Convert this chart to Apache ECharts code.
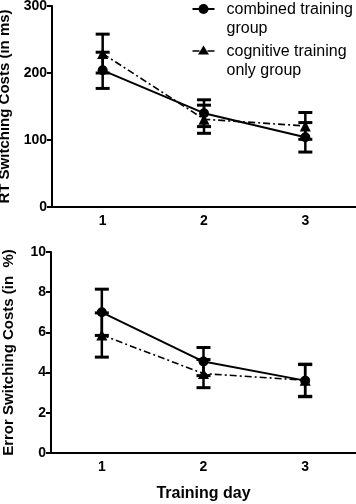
<!DOCTYPE html>
<html>
<head>
<meta charset="utf-8">
<script src="https://cdn.jsdelivr.net/npm/echarts@6/dist/echarts.min.js"></script>
<style>
  html, body { margin: 0; padding: 0; background: #fff; }
  #chart { width: 356px; height: 504px; }
</style>
</head>
<body>
<div id="chart"></div>
<script>
// Training days (x categories)
const days = ["1", "2", "3"];

// RT switching costs (ms): means and error bar half-lengths
const rtCombined = [204, 140, 104];
const rtCombinedErr = [27, 20, 22];
const rtCognitive = [229, 131, 121];
const rtCognitiveErr = [29, 21, 20];

// Error switching costs (%): means and error bar half-lengths
const errCombined = [7.0, 4.55, 3.6];
const errCombinedErr = [1.15, 0.7, 0.8];
const errCognitive = [5.87, 3.95, 3.62];
const errCognitiveErr = [1.1, 0.7, 0.8];

const seriesNames = ["combined training\ngroup", "cognitive training\nonly group"];

const FONT = "Liberation Sans, Arial, sans-serif";
const dashDot = [7, 3, 2, 3];

const chart = echarts.init(document.getElementById("chart"));

function errorBar(params, api) {
  const i = api.value(0);
  const v = api.value(1);
  const e = api.value(2);
  const hi = api.coord([i, v + e]);
  const lo = api.coord([i, v - e]);
  const hw = 7;
  const st = { stroke: "#000", lineWidth: 3 };
  return {
    type: "group",
    children: [
      { type: "line", shape: { x1: hi[0], y1: hi[1], x2: lo[0], y2: lo[1] }, style: { stroke: "#000", lineWidth: 2.5 } },
      { type: "line", shape: { x1: hi[0] - hw, y1: hi[1], x2: hi[0] + hw, y2: hi[1] }, style: st },
      { type: "line", shape: { x1: lo[0] - hw, y1: lo[1], x2: lo[0] + hw, y2: lo[1] }, style: st }
    ]
  };
}

function errData(vals, errs) {
  return vals.map((v, i) => [i, v, errs[i]]);
}

function xAxisCfg(gridIndex, withName) {
  return {
    type: "category",
    gridIndex: gridIndex,
    data: days,
    boundaryGap: true,
    axisLine: { lineStyle: { color: "#000", width: 2 } },
    axisTick: { alignWithLabel: true, length: 5, lineStyle: { color: "#000", width: 2 } },
    axisLabel: { color: "#000", fontWeight: "bold", fontSize: 14, fontFamily: FONT, margin: 7 },
    name: withName ? "Training day" : "",
    nameLocation: "middle",
    nameGap: 33,
    nameTextStyle: { color: "#000", fontWeight: "bold", fontSize: 16, fontFamily: FONT }
  };
}

function yAxisCfg(gridIndex, max, interval, name) {
  return {
    type: "value",
    gridIndex: gridIndex,
    min: 0,
    max: max,
    interval: interval,
    splitLine: { show: false },
    axisLine: { show: true, lineStyle: { color: "#000", width: 2 } },
    axisTick: { show: true, length: 5, lineStyle: { color: "#000", width: 2 } },
    axisLabel: { color: "#000", fontWeight: "bold", fontSize: 14, fontFamily: FONT, margin: 5 },
    name: name,
    nameLocation: "middle",
    nameGap: 35,
    nameTextStyle: { color: "#000", fontWeight: "bold", fontSize: 15, fontFamily: FONT }
  };
}

function lineSeries(name, idx, data, symbol, dashed) {
  return {
    name: name,
    type: "line",
    xAxisIndex: idx,
    yAxisIndex: idx,
    data: data,
    symbol: symbol,
    symbolSize: symbol === "circle" ? 10 : 11,
    itemStyle: { color: "#000" },
    lineStyle: { color: "#000", width: dashed ? 1.6 : 2, type: dashed ? dashDot : "solid" },
    z: 3,
    animation: false
  };
}

function barSeries(idx, vals, errs) {
  return {
    type: "custom",
    xAxisIndex: idx,
    yAxisIndex: idx,
    data: errData(vals, errs),
    encode: { x: 0, y: 1 },
    renderItem: errorBar,
    z: 2,
    silent: true,
    animation: false
  };
}

const option = {
  backgroundColor: "#fff",
  animation: false,
  grid: [
    { left: 52, top: 6, width: 304, height: 201, outerBoundsMode: "none" },
    { left: 51, top: 252, width: 305, height: 201, outerBoundsMode: "none" }
  ],
  xAxis: [xAxisCfg(0, false), xAxisCfg(1, true)],
  yAxis: [
    yAxisCfg(0, 300, 100, "RT Switching Costs (in ms)"),
    yAxisCfg(1, 10, 2, "Error Switching Costs (in  %)")
  ],
  graphic: [
    {
      type: "group",
      left: 190,
      top: 0,
      children: [
        { type: "line", shape: { x1: 0, y1: 10, x2: 22, y2: 10 }, style: { stroke: "#000", lineWidth: 2 } },
        { type: "circle", shape: { cx: 11, cy: 10, r: 5 }, style: { fill: "#000" } },
        { type: "text", x: 34, y: 1, style: { text: seriesNames[0], fill: "#000", font: "16px " + FONT, lineHeight: 19, verticalAlign: "top" } },
        { type: "line", shape: { x1: 0, y1: 52, x2: 22, y2: 52 }, style: { stroke: "#000", lineWidth: 1.6, lineDash: dashDot } },
        { type: "polygon", shape: { points: [[11, 46.5], [16.5, 55.5], [5.5, 55.5]] }, style: { fill: "#000" } },
        { type: "text", x: 34, y: 43, style: { text: seriesNames[1], fill: "#000", font: "16px " + FONT, lineHeight: 19, verticalAlign: "top" } }
      ]
    }
  ],
  series: [
    barSeries(0, rtCombined, rtCombinedErr),
    barSeries(0, rtCognitive, rtCognitiveErr),
    lineSeries(seriesNames[0], 0, rtCombined, "circle", false),
    lineSeries(seriesNames[1], 0, rtCognitive, "triangle", true),
    barSeries(1, errCombined, errCombinedErr),
    barSeries(1, errCognitive, errCognitiveErr),
    lineSeries(seriesNames[0], 1, errCombined, "circle", false),
    lineSeries(seriesNames[1], 1, errCognitive, "triangle", true)
  ]
};

chart.setOption(option);
</script>
</body>
</html>
